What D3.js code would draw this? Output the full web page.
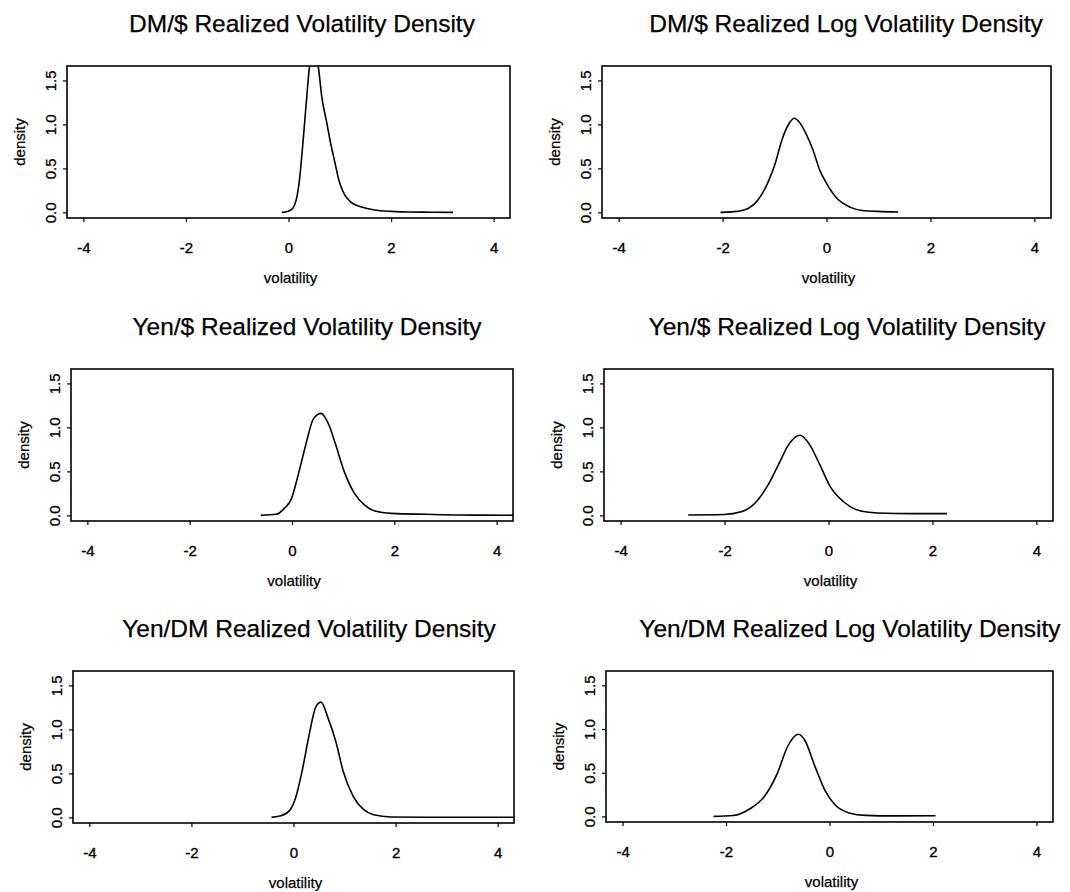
<!DOCTYPE html>
<html>
<head>
<meta charset="utf-8">
<script src="https://cdn.jsdelivr.net/npm/d3@7"></script>
<style>
  html, body { margin: 0; padding: 0; background: #fff; }
  svg { display: block; }
  text { font-family: Arial, "Liberation Sans", Helvetica, sans-serif; fill: #000; }
</style>
</head>
<body>
<svg id="chart" width="1070" height="892"></svg>
<script>
// Panel titles
const titles = [
  "DM/$ Realized Volatility Density",
  "DM/$ Realized Log Volatility Density",
  "Yen/$ Realized Volatility Density",
  "Yen/$ Realized Log Volatility Density",
  "Yen/DM Realized Volatility Density",
  "Yen/DM Realized Log Volatility Density"
];

// Axis ticks shared by all panels
const xTicks = [-4, -2, 0, 2, 4];
const yTicks = [0, 0.5, 1.0, 1.5];
const xLimits = [-4, 4];
const yLimits = [0, 1.6];

// Kernel density estimates: grid points and density values
const dmVolX = [-0.13, -0.02, 0.08, 0.15, 0.21, 0.28, 0.35, 0.41, 0.48, 0.58, 0.65, 0.75, 0.81, 0.91, 0.98, 1.08, 1.21, 1.41, 1.68, 2.01, 2.34, 2.8, 3.21];
const dmVolY = [0.0, 0.01, 0.045, 0.14, 0.35, 0.78, 1.27, 1.66, 1.85, 1.66, 1.31, 1.01, 0.82, 0.555, 0.37, 0.215, 0.12, 0.064, 0.026, 0.011, 0.004, 0.002, 0.0];

const dmLogX = [-2.04, -1.78, -1.51, -1.32, -1.12, -0.99, -0.86, -0.72, -0.62, -0.53, -0.39, -0.26, -0.13, 0.0, 0.2, 0.46, 0.72, 0.99, 1.38];
const dmLogY = [0.0, 0.008, 0.045, 0.14, 0.35, 0.55, 0.82, 1.01, 1.07, 1.03, 0.89, 0.71, 0.48, 0.33, 0.16, 0.057, 0.019, 0.011, 0.004];

const yenVolX = [-0.61, -0.31, -0.15, -0.01, 0.09, 0.19, 0.29, 0.42, 0.57, 0.72, 0.85, 1.02, 1.22, 1.42, 1.62, 1.95, 2.62, 3.29, 4.4];
const yenVolY = [0.0, 0.012, 0.08, 0.19, 0.39, 0.62, 0.85, 1.10, 1.16, 1.03, 0.81, 0.50, 0.25, 0.116, 0.05, 0.023, 0.012, 0.004, 0.002];

const yenLogX = [-2.70, -2.01, -1.68, -1.42, -1.16, -0.96, -0.76, -0.55, -0.37, -0.17, 0.03, 0.29, 0.62, 0.95, 1.61, 2.28];
const yenLogY = [0.005, 0.01, 0.04, 0.135, 0.35, 0.58, 0.81, 0.91, 0.81, 0.58, 0.33, 0.155, 0.05, 0.027, 0.02, 0.02];

const ydmVolX = [-0.43, -0.23, -0.06, 0.04, 0.17, 0.31, 0.44, 0.54, 0.67, 0.84, 0.97, 1.17, 1.37, 1.57, 1.91, 2.57, 4.4];
const ydmVolY = [0.0, 0.02, 0.09, 0.22, 0.53, 0.95, 1.26, 1.31, 1.14, 0.84, 0.53, 0.24, 0.09, 0.03, 0.005, 0.002, 0.002];

const ydmLogX = [-2.24, -1.86, -1.53, -1.27, -1.01, -0.81, -0.60, -0.48, -0.28, -0.09, 0.11, 0.38, 0.70, 1.23, 2.05];
const ydmLogY = [0.0, 0.01, 0.09, 0.22, 0.49, 0.80, 0.94, 0.875, 0.57, 0.30, 0.13, 0.04, 0.012, 0.006, 0.008];

const seriesX = [dmVolX, dmLogX, yenVolX, yenLogX, ydmVolX, ydmLogX];
const seriesY = [dmVolY, dmLogY, yenVolY, yenLogY, ydmVolY, ydmLogY];

// Plot-region placement for each panel: [left, top, right, bottom]
const frames = [
  [67, 66, 510, 218],
  [602, 66, 1051, 218],
  [71, 369, 513, 521],
  [604, 369, 1053, 521],
  [73, 671, 514, 823],
  [606, 671, 1053, 822]
];
const titlePos = [[302, 32], [846, 32], [307, 335], [847, 335], [309, 637], [850, 637]];

const svg = d3.select("#chart");

// R-style 4% axis expansion
function expand(lim) {
  const d = (lim[1] - lim[0]) * 0.04;
  return [lim[0] - d, lim[1] + d];
}

frames.forEach((f, i) => {
  const [l, t, r, b] = f;
  const x = d3.scaleLinear().domain(expand(xLimits)).range([l, r]);
  const y = d3.scaleLinear().domain(expand(yLimits)).range([b, t]);

  // title
  svg.append("text")
    .attr("x", titlePos[i][0]).attr("y", titlePos[i][1])
    .attr("text-anchor", "middle")
    .style("font-size", "24.5px")
    .style("stroke", "#000").style("stroke-width", "0.25px")
    .text(titles[i]);

  // clip
  const clipId = "clip" + i;
  svg.append("clipPath").attr("id", clipId)
    .append("rect").attr("x", l).attr("y", t).attr("width", r - l).attr("height", b - t);

  // density curve
  const pts = seriesX[i].map((v, k) => [v, seriesY[i][k]]);
  svg.append("path")
    .datum(pts)
    .attr("clip-path", `url(#${clipId})`)
    .attr("fill", "none")
    .attr("stroke", "#000")
    .attr("stroke-width", 1.6)
    .attr("stroke-linejoin", "round")
    .attr("d", d3.line().x(d => x(d[0])).y(d => y(d[1])).curve(d3.curveMonotoneX));

  // frame
  svg.append("rect")
    .attr("x", l).attr("y", t).attr("width", r - l).attr("height", b - t)
    .attr("fill", "none").attr("stroke", "#000").attr("stroke-width", 1.6);

  // x axis
  const gx = svg.append("g")
    .attr("transform", `translate(0,${b})`)
    .attr("font-family", null).attr("font-size", null)
    .call(d3.axisBottom(x).tickValues(xTicks).tickFormat(d => String(d)).tickSize(4).tickPadding(20));
  gx.attr("font-family", null).attr("font-size", null);
  gx.select(".domain").remove();
  gx.selectAll("line").attr("stroke", "#000").attr("stroke-width", 1.2);
  gx.selectAll("text")
    .style("font-size", "15px")
    .style("stroke", "#000").style("stroke-width", "0.35px");

  // y axis with rotated labels
  const gy = svg.append("g")
    .attr("transform", `translate(${l},0)`)
    .call(d3.axisLeft(y).tickValues(yTicks).tickFormat(d3.format(".1f")).tickSize(4));
  gy.attr("font-family", null).attr("font-size", null);
  gy.select(".domain").remove();
  gy.selectAll("line").attr("stroke", "#000").attr("stroke-width", 1.2);
  gy.selectAll("text")
    .attr("x", null).attr("dy", null)
    .attr("text-anchor", "middle")
    .attr("dominant-baseline", "central")
    .attr("transform", "translate(-17,0) rotate(-90)")
    .style("font-size", "15px")
    .style("stroke", "#000").style("stroke-width", "0.3px");

  // axis titles
  svg.append("text")
    .attr("x", (l + r) / 2 + 2).attr("y", b + 65)
    .attr("text-anchor", "middle")
    .style("font-size", "15px")
    .style("stroke", "#000").style("stroke-width", "0.25px")
    .text("volatility");
  svg.append("text")
    .attr("transform", `translate(${l - 48},${(t + b) / 2}) rotate(-90)`)
    .attr("text-anchor", "middle")
    .attr("dominant-baseline", "central")
    .style("font-size", "15px")
    .style("stroke", "#000").style("stroke-width", "0.25px")
    .text("density");
});
</script>
</body>
</html>
